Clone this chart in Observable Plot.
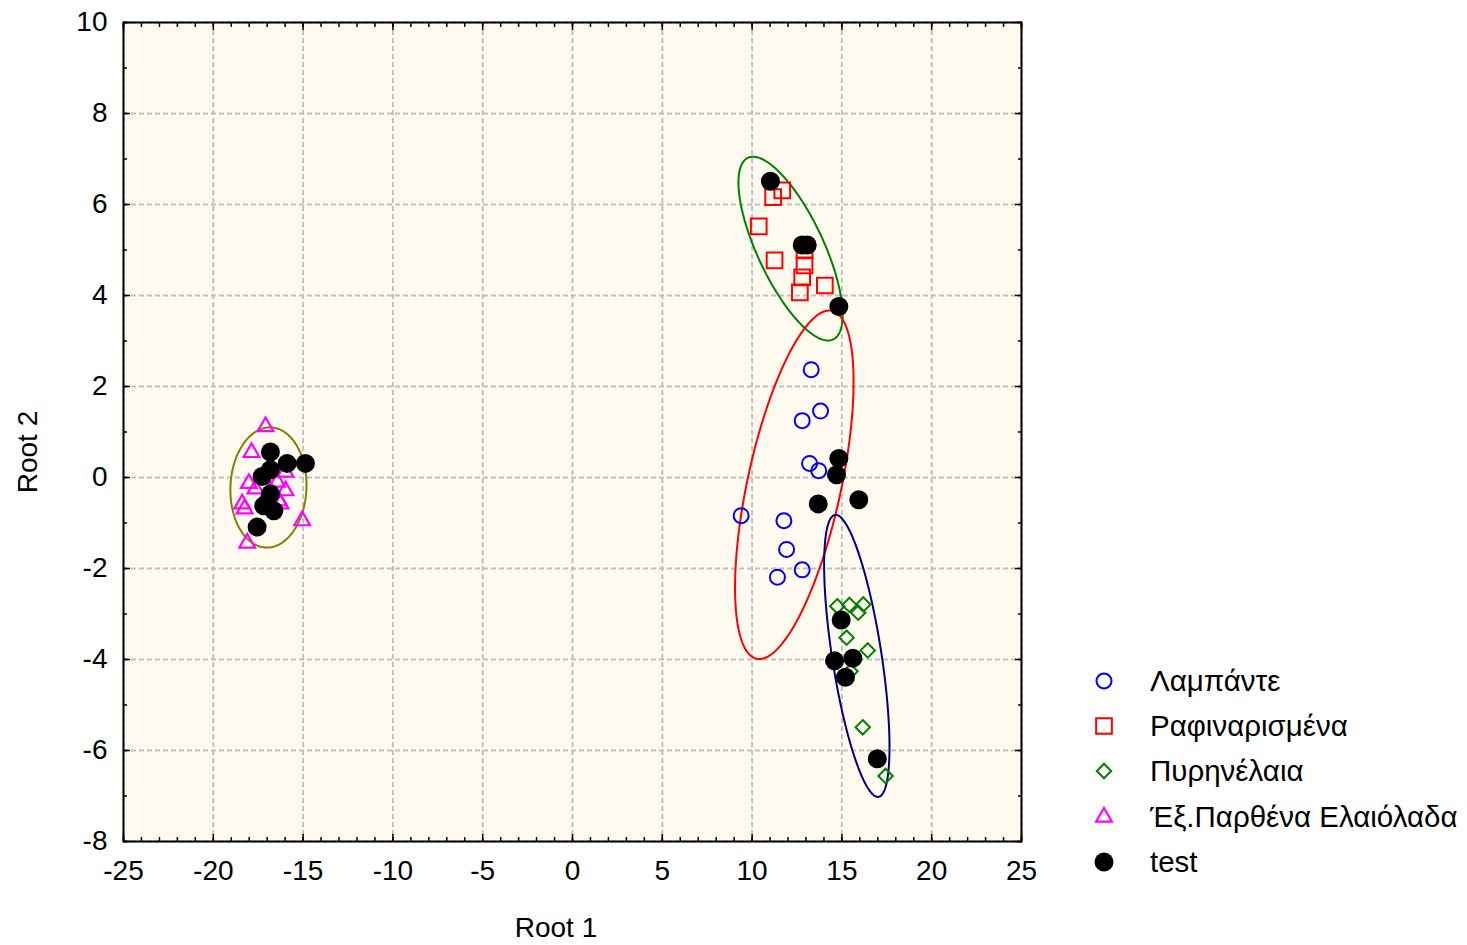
<!DOCTYPE html>
<html>
<head>
<meta charset="utf-8">
<script src="https://cdn.jsdelivr.net/npm/d3@7"></script>
<script src="https://cdn.jsdelivr.net/npm/@observablehq/plot@0.6"></script>
<style>
  body { margin: 0; background: #ffffff; font-family: "Liberation Sans", Arial, sans-serif; }
  #wrap { position: relative; width: 1467px; height: 945px; }
  .lbl { position: absolute; font-size: 28px; color: #000; white-space: nowrap; }
</style>
</head>
<body>
<div id="wrap"></div>
<script>
// ---- Data ----
const xMajor = [-25, -20, -15, -10, -5, 0, 5, 10, 15, 20, 25];
const xMinor = d3.range(-25, 26, 1);
const yMajor = [-8, -6, -4, -2, 0, 2, 4, 6, 8, 10];
const yMinor = d3.range(-8, 11, 1);

const seriesNames = ["Λαμπάντε", "Ραφιναρισμένα", "Πυρηνέλαια", "Έξ.Παρθένα Ελαιόλαδα", "test"];

// Λαμπάντε
const lampX = [13.29, 13.81, 12.79, 13.20, 13.71, 9.39, 11.77, 11.92, 12.79, 11.41];
const lampY = [2.37, 1.46, 1.25, 0.31, 0.15, -0.84, -0.95, -1.58, -2.03, -2.19];
// Ραφιναρισμένα
const rafX = [11.17, 11.68, 10.37, 11.25, 12.92, 12.92, 12.79, 12.66, 14.05];
const rafY = [6.16, 6.31, 5.52, 4.77, 4.99, 4.66, 4.40, 4.07, 4.22];
// Πυρηνέλαια
const pyrX = [14.74, 15.42, 15.91, 16.19, 15.26, 16.44, 15.48, 16.16, 17.43];
const pyrY = [-2.83, -2.80, -2.97, -2.79, -3.52, -3.80, -4.26, -5.49, -6.56];
// Έξ.Παρθένα Ελαιόλαδα
const evooX = [-17.09, -17.87, -18.02, -17.65, -18.39, -18.26, -18.11, -15.05, -15.98, -15.98, -16.44, -16.26, -16.35, -16.82, -17.10];
const evooY = [1.12, 0.55, -0.13, -0.25, -0.58, -0.69, -1.44, -0.95, -0.29, 0.12, -0.10, -0.58, -0.51, -0.29, -0.45];
// test
const testX = [-16.82, -15.89, -14.87, -16.82, -17.28, -16.82, -17.19, -16.63, -17.56,
               11.02, 12.79, 13.07, 14.83,
               14.83, 14.70, 13.68, 15.94,
               14.96, 14.59, 15.61, 15.20, 16.97];
const testY = [0.56, 0.31, 0.31, 0.17, 0.02, -0.36, -0.62, -0.73, -1.09,
               6.51, 5.11, 5.11, 3.76,
               0.42, 0.06, -0.58, -0.49,
               -3.13, -4.03, -3.97, -4.39, -6.18];

// Confidence ellipses: centre, spread in x and y, correlation
const ellColor = ["#808000", "#008000", "#ff0000", "#000080"];
const ellCx = [-16.93, 12.14, 12.35, 15.83];
const ellCy = [-0.22, 5.03, -0.16, -3.92];
const ellSx = [2.12, 2.90, 3.30, 1.82];
const ellSy = [1.32, 2.02, 3.83, 3.10];
const ellR  = [0.04, -0.72, 0.59, -0.645];

// ---- build ----
function ellipsePts(i) {
  const phi = Math.acos(ellR[i]);
  return d3.range(0, 361, 2).map(a => {
    const t = a * Math.PI / 180;
    return {x: ellCx[i] + ellSx[i] * Math.cos(t), y: ellCy[i] + ellSy[i] * Math.cos(t - phi)};
  });
}
const pts = (xs, ys) => xs.map((x, i) => ({x, y: ys[i]}));
const fmt = d => String(d);

const chart = Plot.plot({
  width: 1467, height: 945,
  marginLeft: 123, marginRight: 446, marginTop: 22, marginBottom: 104,
  x: {domain: [-25, 25]},
  y: {domain: [-8, 10]},
  style: {fontFamily: "'Liberation Sans', Arial, sans-serif", fontSize: "28px", background: "#ffffff", color: "#000"},
  marks: [
    Plot.frame({fill: "#fffaf0", stroke: null}),
    Plot.gridX({ticks: xMajor, stroke: "#c0c0c0", strokeOpacity: 1, strokeWidth: 2, strokeDasharray: "5,3"}),
    Plot.gridY({ticks: yMajor, stroke: "#c0c0c0", strokeOpacity: 1, strokeWidth: 2, strokeDasharray: "5,3"}),
    ...ellColor.map((c, i) => Plot.line(ellipsePts(i), {x: "x", y: "y", stroke: c, strokeWidth: 2, curve: "linear"})),
    Plot.dot(pts(lampX, lampY), {x: "x", y: "y", symbol: "circle", r: 7.5, stroke: "#0000ff", strokeWidth: 2, fill: "none"}),
    Plot.dot(pts(rafX, rafY), {x: "x", y: "y", symbol: "square2", r: 10, stroke: "#ff0000", strokeWidth: 2, fill: "none"}),
    Plot.dot(pts(pyrX, pyrY), {x: "x", y: "y", symbol: "diamond2", r: 6.5, stroke: "#008000", strokeWidth: 2, fill: "none"}),
    Plot.dot(pts(evooX, evooY), {x: "x", y: "y", symbol: "triangle2", r: 7.5, stroke: "#ff00ff", strokeWidth: 2.2, fill: "none"}),
    Plot.dot(pts(testX, testY), {x: "x", y: "y", symbol: "circle", r: 9.5, fill: "#000", stroke: "none"}),
    // inward ticks on all four sides
    Plot.axisX({anchor: "bottom", ticks: xMinor, tickSize: -4, fill: "none", label: null, strokeWidth: 1.5}),
    Plot.axisX({anchor: "bottom", ticks: xMajor, tickSize: -7, fill: "none", label: null, strokeWidth: 1.5}),
    Plot.axisX({anchor: "top", ticks: xMinor, tickSize: -4, fill: "none", label: null, strokeWidth: 1.5}),
    Plot.axisX({anchor: "top", ticks: xMajor, tickSize: -7, fill: "none", label: null, strokeWidth: 1.5}),
    Plot.axisY({anchor: "left", ticks: yMinor, tickSize: -4, fill: "none", label: null, strokeWidth: 1.5}),
    Plot.axisY({anchor: "left", ticks: yMajor, tickSize: -7, fill: "none", label: null, strokeWidth: 1.5}),
    Plot.axisY({anchor: "right", ticks: yMinor, tickSize: -4, fill: "none", label: null, strokeWidth: 1.5}),
    Plot.axisY({anchor: "right", ticks: yMajor, tickSize: -7, fill: "none", label: null, strokeWidth: 1.5}),
    // tick labels
    Plot.axisX({anchor: "bottom", ticks: xMajor, tickSize: 0, tickPadding: 19, tickFormat: fmt, label: null}),
    Plot.axisY({anchor: "left", ticks: yMajor, tickSize: 0, tickPadding: 16, tickFormat: fmt, label: null}),
    Plot.frame({stroke: "#000", strokeWidth: 2})
  ]
});

const wrap = document.getElementById("wrap");
wrap.appendChild(chart);

// axis titles
const t1 = document.createElement("div");
t1.className = "lbl"; t1.textContent = "Root 1";
t1.style.left = "556px"; t1.style.top = "928px"; t1.style.transform = "translate(-50%,-50%)";
wrap.appendChild(t1);
const t2 = document.createElement("div");
t2.className = "lbl"; t2.textContent = "Root 2";
t2.style.left = "28px"; t2.style.top = "452px"; t2.style.transform = "translate(-50%,-50%) rotate(-90deg)";
wrap.appendChild(t2);

// legend
const legSym = [
  {type: d3.symbolCircle, size: Math.PI * 7.5 * 7.5, stroke: "#0000ff", fill: "none", sw: 2},
  {type: d3.symbolSquare2, size: Math.PI * 10 * 10, stroke: "#ff0000", fill: "none", sw: 2},
  {type: d3.symbolDiamond2, size: Math.PI * 6.5 * 6.5, stroke: "#008000", fill: "none", sw: 2},
  {type: d3.symbolTriangle2, size: Math.PI * 7.5 * 7.5, stroke: "#ff00ff", fill: "none", sw: 2.2},
  {type: d3.symbolCircle, size: Math.PI * 9.5 * 9.5, stroke: "none", fill: "#000", sw: 0}
];
const legY = [681, 726, 771, 817, 862];
const leg = d3.select(wrap).append("svg")
  .attr("width", 400).attr("height", 260)
  .style("position", "absolute").style("left", "1067px").style("top", "640px")
  .style("font-family", "'Liberation Sans', Arial, sans-serif").style("font-size", "29.5px");
seriesNames.forEach((name, i) => {
  const g = leg.append("g").attr("transform", `translate(0,${legY[i] - 640})`);
  g.append("path").attr("transform", "translate(37,0)")
    .attr("d", d3.symbol(legSym[i].type, legSym[i].size)())
    .attr("fill", legSym[i].fill).attr("stroke", legSym[i].stroke).attr("stroke-width", legSym[i].sw);
  g.append("text").attr("x", 83).attr("y", 0).attr("dy", "0.35em").attr("fill", "#000").text(name);
});
</script>
</body>
</html>
